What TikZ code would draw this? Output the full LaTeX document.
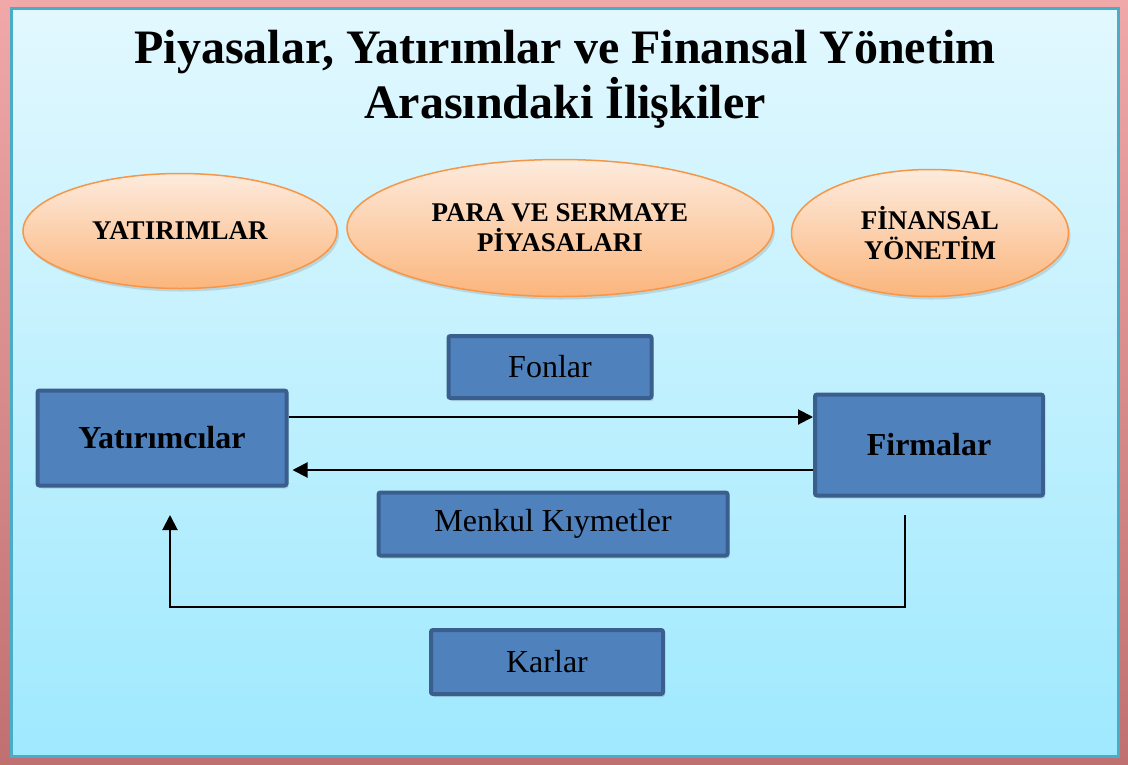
\documentclass[tikz,border=0pt]{standalone}
\usepackage{fontspec}
\setmainfont{Liberation Serif}
\usetikzlibrary{shapes.geometric,arrows.meta,shadows}
\definecolor{boxfill}{HTML}{4F81BD}
\definecolor{boxline}{HTML}{3A5F8E}
\definecolor{ellline}{HTML}{F79646}
\definecolor{elltop}{HTML}{FDEBDD}
\definecolor{ellbot}{HTML}{FBB57C}
\definecolor{paneltop}{HTML}{E2F8FE}
\definecolor{panelbot}{HTML}{9FE9FE}
\definecolor{panelline}{HTML}{4BACC6}
\definecolor{frametop}{HTML}{F0A8A8}
\definecolor{framebot}{HTML}{C07070}
\tikzset{
  ell/.style={ellipse, draw=ellline, line width=1.5pt, top color=elltop, bottom color=ellbot,
    font=\fontsize{27}{30}\selectfont\bfseries, align=center, inner sep=0pt,
    drop shadow={shadow xshift=2pt, shadow yshift=-3pt, opacity=0.25}},
  blk/.style={rectangle, draw=boxline, line width=4pt, fill=boxfill, rounded corners=2pt,
    font=\fontsize{32}{36}\selectfont, inner sep=0pt,
    drop shadow={shadow xshift=2pt, shadow yshift=-3pt, opacity=0.25}},
  flow/.style={line width=2pt, -{Triangle[length=15pt,width=15pt]}},
}
\begin{document}
\begin{tikzpicture}[x=1pt,y=-1pt]
\useasboundingbox (0,0) rectangle (1128,764);
% frame
\shade[top color=frametop, bottom color=framebot] (0,0) rectangle (1128,764);
\shade[top color=paneltop, bottom color=panelbot, draw=panelline, line width=3pt] (11,8) rectangle (1118,756);
% title
\node[font=\fontsize{48}{55}\selectfont\bfseries, align=center] (title) at (565,79)
  {Piyasalar, Yatırımlar ve Finansal Yönetim\\Arasındaki İlişkiler};
% ellipses
\node[ell, minimum width=314pt, minimum height=115pt] (e1) at (180,231) {YATIRIMLAR};
\node[ell, minimum width=426pt, minimum height=137pt] (e2) at (560,228) {PARA VE SERMAYE\\PİYASALARI};
\node[ell, minimum width=277pt, minimum height=127pt] (e3) at (930,233) {FİNANSAL\\YÖNETİM};
% boxes
\node[blk, minimum width=203pt, minimum height=62pt] (fon) at (550,367) {Fonlar};
\node[blk, minimum width=249pt, minimum height=95pt, font=\fontsize{32}{36}\selectfont\bfseries] (yat) at (162,438) {Yatırımcılar};
\node[blk, minimum width=228pt, minimum height=101pt, font=\fontsize{32}{36}\selectfont\bfseries] (fir) at (929,445) {Firmalar};
\node[blk, minimum width=349pt, minimum height=63pt] (men) at (553,524) {Menkul Kıymetler};
\node[blk, minimum width=232pt, minimum height=64pt] (kar) at (547,662) {Karlar};
% arrows
\draw[flow] (yat.east |- 0,417) -- (fir.west |- 0,417);
\draw[flow] (fir.west |- 0,470) -- ([xshift=4pt]yat.east |- 0,470);
\coordinate (ks) at (905,515);
\coordinate (ke) at (170,515);
\draw[flow] (ks) -- (905,607) -- (170,607) -- (ke);
\end{tikzpicture}
\end{document}
